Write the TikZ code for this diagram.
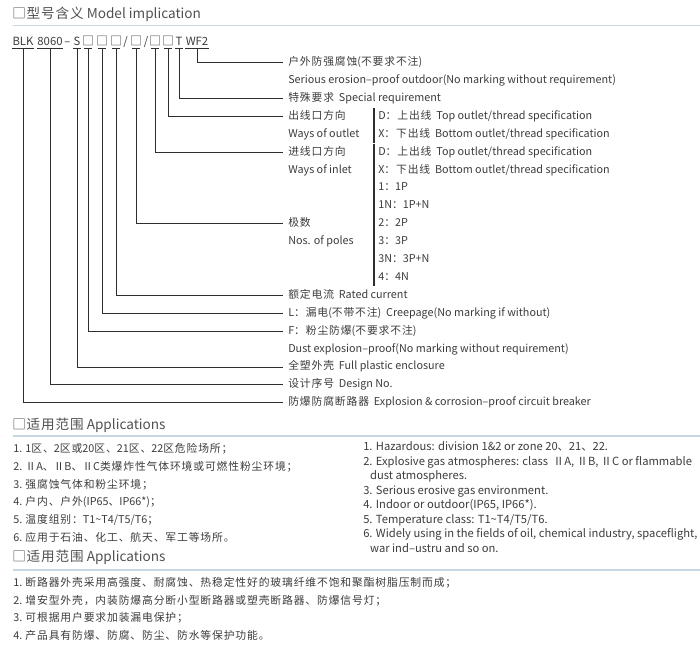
\documentclass[tikz,border=0pt]{standalone}
\usepackage{fontspec}
\setmainfont{Noto Sans CJK SC}
\usetikzlibrary{positioning}
\definecolor{txtgray}{HTML}{3C3C3C}
\definecolor{headgray}{HTML}{505050}
\definecolor{linegray}{HTML}{2E2E2E}
\definecolor{rulecol}{HTML}{C6D8E3}
% a little tracking between Chinese characters
\newXeTeXintercharclass\zhclass
\count255="4E00
\loop \XeTeXcharclass\count255=\zhclass
  \ifnum\count255<"9FFF \advance\count255 by 1 \repeat
\XeTeXcharclass"3001=\zhclass \XeTeXcharclass"3002=\zhclass
\XeTeXcharclass"FF0C=\zhclass \XeTeXcharclass"FF1A=\zhclass
\XeTeXcharclass"FF1B=\zhclass \XeTeXcharclass"25A1=\zhclass
\XeTeXinterchartoks\zhclass\zhclass={\hskip 0.65pt\relax}
\XeTeXinterchartokenstate=1

\begin{document}
\begin{tikzpicture}[x=0.75pt, y=-0.75pt,
    heading/.style={anchor=west, inner sep=0pt, font=\fontsize{10.2}{12}\selectfont, text=headgray},
    rule/.style={draw=rulecol, line width=1.1pt},
    code/.style={anchor=base, inner sep=0pt, font=\fontsize{8.5}{10}\selectfont, text=txtgray},
    codebox/.style={code, inner xsep=-1.7pt, font=\fontsize{9}{10}\selectfont},
    lbl/.style={anchor=west, inner xsep=3.75pt, inner ysep=0pt, font=\fontsize{8.1}{9}\selectfont,
                text=txtgray, text height=6pt, text depth=1.6pt},
    opt/.style={lbl, inner xsep=0pt, inner ysep=2.5pt},
    item/.style={anchor=west, inner sep=0pt, font=\fontsize{8.1}{9}\selectfont, text=txtgray,
                 text height=6pt, text depth=1.6pt},
    itemen/.style={item, font=\fontsize{8.4}{9}\selectfont},
    lead/.style={draw=linegray, line width=0.75pt},
    optbar/.style={draw=linegray, line width=0.9pt}
]
\useasboundingbox (0,0) rectangle (700,647);

% section headings
\node[heading] (hModel) at (12,14) {□型号含义 Model implication};
\draw[rule] (13,25.7) -- (700,25.7);
\node[heading] (hApp) at (12,425) {□适用范围 Applications};
\draw[rule] (13,436) -- (700,436);
\node[heading] (hFeat) at (12,557) {□适用范围 Applications};
\draw[rule] (13,570) -- (700,570);

% model code
\node[code] (cBLK) at (23,45) {BLK};
\node[code] (cNum) at (50,45) {8060};
\node[code] (cDash) at (67.5,45) {–};
\node[code] (cS) at (77,45) {S};
\node[codebox] (cB1) at (88,45) {□};
\node[codebox] (cB2) at (102,45) {□};
\node[codebox] (cB3) at (116,45) {□};
\node[code] (cSl1) at (125.5,45) {/};
\node[codebox] (cB4) at (136,45) {□};
\node[code] (cSl2) at (146,45) {/};
\node[codebox] (cB5) at (155,45) {□};
\node[codebox] (cB6) at (168,45) {□};
\node[code] (cT) at (179,45) {T};
\node[code] (cWF) at (197,45) {WF2};
\coordinate (barline) at (0,48);

% explanations
\foreach \r/\n/\t in {0/lWF/{户外防强腐蚀(不要求不注)},
    1/lWFen/{Serious erosion–proof outdoor(No marking without requirement)},
    2/lT/{特殊要求\ \ Special requirement},
    3/lOut/{出线口方向}, 4/lOutEn/{Ways of outlet},
    5/lIn/{进线口方向}, 6/lInEn/{Ways of inlet},
    9/lPol/{极数}, 10/lPolEn/{Nos. of poles},
    13/lRat/{额定电流\ \ Rated current},
    14/lLeak/{L：漏电(不带不注)\ \ Creepage(No marking if without)},
    15/lDust/{F：粉尘防爆(不要求不注)},
    16/lDustEn/{Dust explosion–proof(No marking without requirement)},
    17/lPla/{全塑外壳\ \ Full plastic enclosure},
    18/lDes/{设计序号\ \ Design No.},
    19/lBrk/{防爆防腐断路器\ \ Explosion \& corrosion–proof circuit breaker}}
  \node[lbl] (\n) at (283,62.7+17.9*\r) {\t};

% options
\foreach \r/\n/\t in {3/oOutD/{D：上出线\ \ Top outlet/thread specification},
    4/oOutX/{X：下出线\ \ Bottom outlet/thread specification},
    5/oInD/{D：上出线\ \ Top outlet/thread specification},
    6/oInX/{X：下出线\ \ Bottom outlet/thread specification},
    7/oP1/{1：1P}, 8/oP1N/{1N：1P+N}, 9/oP2/{2：2P},
    10/oP3/{3：3P}, 11/oP3N/{3N：3P+N}, 12/oP4/{4：4N}}
  \node[opt] (\n) at (378,62.7+17.9*\r) {\t};
\draw[optbar] ([xshift=-3pt]oOutD.north west) -- ([xshift=-3pt]oOutX.south west);
\draw[optbar] ([xshift=-3pt]oInD.north west) -- ([xshift=-3pt]oInX.south west);
\draw[optbar] ([xshift=-3pt]oP1.north west) -- ([xshift=-3pt]oP4.south west);

% leader lines
\foreach \c/\l in {cBLK/lBrk, cNum/lDes, cS/lPla, cB1/lDust, cB2/lLeak, cB3/lRat,
    cB4/lPol, cB5/lIn, cB6/lOut, cT/lT, cWF/lWF} {
  \draw[lead] (\c.west |- barline) -- (\c.east |- barline);
  \draw[lead] (\c |- barline) |- (\l.west);
}

% applications
\foreach \y/\n/\t in {450/aL1/{1. 1区、2区或20区、21区、22区危险场所；},
    468/aL2/{2. ⅡA、ⅡB、ⅡC类爆炸性气体环境或可燃性粉尘环境；},
    486/aL3/{3. 强腐蚀气体和粉尘环境；},
    503/aL4/{4. 户内、户外(IP65、IP66*)；},
    521/aL5/{5. 温度组别：T1\textasciitilde T4/T5/T6；},
    539/aL6/{6. 应用于石油、化工、航天、军工等场所。}}
  \node[item] (\n) at (13,\y) {\t};

\foreach \y/\n/\t in {447.5/aR1/{1. Hazardous: division 1\&2 or zone 20、21、22.},
    462.5/aR2/{2. Explosive gas atmospheres: class \ ⅡA, ⅡB, ⅡC or flammable},
    477/aR2b/{\ \ \,dust atmospheres.},
    491.5/aR3/{3. Serious erosive gas environment.},
    506/aR4/{4. Indoor or outdoor(IP65, IP66*).},
    520.5/aR5/{5. Temperature class: T1\textasciitilde T4/T5/T6.},
    535/aR6/{6. Widely using in the fields of oil, chemical industry, spaceflight,},
    549.5/aR6b/{\ \ \,war ind–ustru and so on.}}
  \node[itemen] (\n) at (363,\y) {\t};

% features
\foreach \y/\n/\t in {584/fL1/{1. 断路器外壳采用高强度、耐腐蚀、热稳定性好的玻璃纤维不饱和聚酯树脂压制而成；},
    602/fL2/{2. 增安型外壳，内装防爆高分断小型断路器或塑壳断路器、防爆信号灯；},
    619/fL3/{3. 可根据用户要求加装漏电保护；},
    637/fL4/{4. 产品具有防爆、防腐、防尘、防水等保护功能。}}
  \node[item] (\n) at (13,\y) {\t};
\end{tikzpicture}
\end{document}
